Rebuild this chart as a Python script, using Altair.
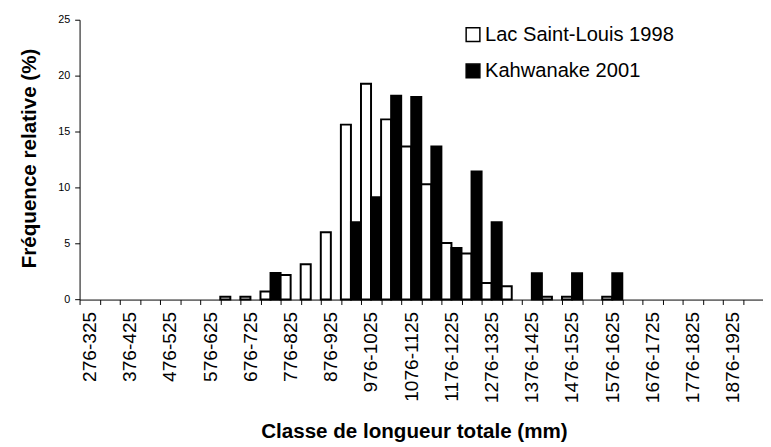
import altair as alt
import pandas as pd

classes = [
    "276-325", "326-375", "376-425", "426-475", "476-525", "526-575",
    "576-625", "626-675", "676-725", "726-775", "776-825", "826-875",
    "876-925", "926-975", "976-1025", "1026-1075", "1076-1125", "1126-1175",
    "1176-1225", "1226-1275", "1276-1325", "1326-1375", "1376-1425", "1426-1475",
    "1476-1525", "1526-1575", "1576-1625", "1626-1675", "1676-1725", "1726-1775",
    "1776-1825", "1826-1875", "1876-1925", "1926-1975",
]

series = ["Lac Saint-Louis 1998", "Kahwanake 2001"]

lac_1998 = [0, 0, 0, 0, 0, 0, 0, 0.25, 0.25, 0.73, 2.19, 3.15, 6.02, 15.63, 19.28,
            16.1, 13.67, 10.31, 5.05, 4.12, 1.49, 1.2, 0, 0.25, 0.25, 0, 0.25,
            0, 0, 0, 0, 0, 0, 0]
kah_2001 = [0, 0, 0, 0, 0, 0, 0, 0, 0, 2.37, 0, 0, 0, 6.92, 9.14, 18.2, 18.11,
            13.67, 4.62, 11.45, 6.9, 0, 2.35, 0, 2.35, 0, 2.35,
            0, 0, 0, 0, 0, 0, 0]

rows = []
for c, a, b in zip(classes, lac_1998, kah_2001):
    if a > 0:
        rows.append({"classe": c, "serie": series[0], "valeur": a})
    if b > 0:
        rows.append({"classe": c, "serie": series[1], "valeur": b})
df = pd.DataFrame(rows)

FONT = "Liberation Sans"

chart = alt.Chart(df).mark_bar(stroke="black", strokeWidth=2).encode(
    x=alt.X(
        "classe:N",
        sort=classes,
        scale=alt.Scale(domain=classes, paddingInner=0, paddingOuter=0),
        axis=alt.Axis(
            title="Classe de longueur totale (mm)",
            labelAngle=270,
            labelExpr="indexof(datum.label, '76-') >= 0 ? datum.label : ''",
            labelOverlap=False,
            tickBand="extent",
            labelFontSize=19.5,
            labelPadding=7,
            tickSize=5,
            titleFontSize=21,
            titleFontWeight="bold",
            titleX=341,
            titleY=141,
            titleAlign="center",
            titleBaseline="alphabetic",
        ),
    ),
    xOffset=alt.XOffset(
        "serie:N",
        sort=series,
        scale=alt.Scale(domain=series, paddingInner=0, paddingOuter=0),
    ),
    y=alt.Y(
        "valeur:Q",
        scale=alt.Scale(domain=[0, 25]),
        axis=alt.Axis(
            title="Fréquence relative (%)",
            values=[0, 5, 10, 15, 20, 25],
            grid=False,
            tickSize=5,
            labelFontSize=11,
            labelPadding=5,
            titleFontSize=21,
            titleFontWeight="bold",
            titleAngle=270,
            titleX=-44.5,
            titleY=141,
            titleAlign="center",
            titleBaseline="alphabetic",
        ),
    ),
    fill=alt.Fill(
        "serie:N",
        sort=series,
        scale=alt.Scale(domain=series, range=["white", "black"]),
        legend=alt.Legend(
            title=None,
            orient="none",
            legendX=391,
            legendY=5,
            symbolType="square",
            symbolSize=196,
            symbolStrokeColor="black",
            symbolStrokeWidth=1.5,
            labelFontSize=20.5,
            labelOffset=2,
            labelLimit=0,
            rowPadding=16,
            padding=0,
        ),
    ),
).properties(
    width=697,
    height=285.4,
    autosize=alt.AutoSizeParams(type="none"),
    padding={"left": 73, "top": 7.6, "right": 0, "bottom": 147},
).configure_view(
    stroke=None
).configure_axis(
    labelFont=FONT,
    titleFont=FONT,
    labelColor="black",
    titleColor="black",
    domainColor="black",
    tickColor="black",
    domainWidth=1,
    tickWidth=1,
).configure_legend(
    labelFont=FONT,
    labelColor="black",
)

chart.save("out.html", embed_options={"renderer": "svg", "actions": False})
